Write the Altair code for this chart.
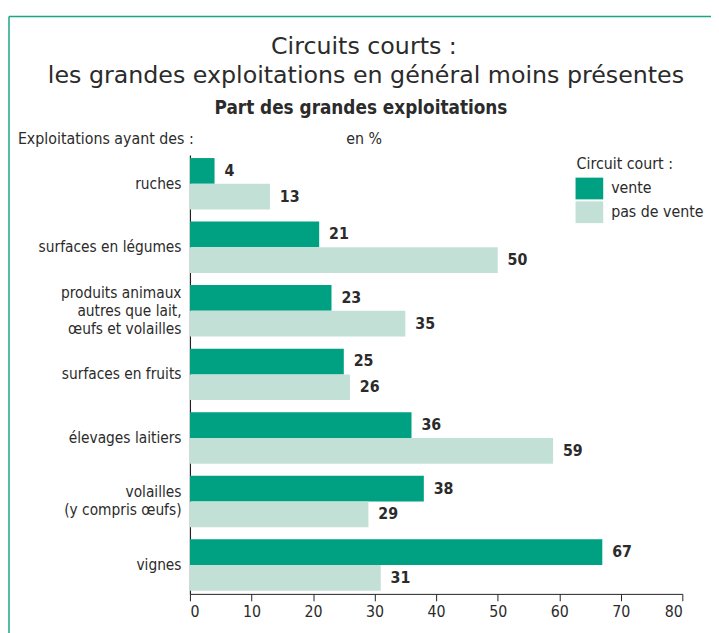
import altair as alt
import pandas as pd

categories = ["ruches", "surfaces en légumes",
              "produits animaux|autres que lait,|œufs et volailles",
              "surfaces en fruits", "élevages laitiers",
              "volailles|(y compris œufs)", "vignes"]
series = ["vente", "pas de vente"]
vente = [4, 21, 23, 25, 36, 38, 67]
pas_de_vente = [13, 50, 35, 26, 59, 29, 31]
x_ticks = [0, 10, 20, 30, 40, 50, 60, 70, 80]
colors = ["#00a082", "#c3e0d6"]

rows = []
for c, v1, v2 in zip(categories, vente, pas_de_vente):
    rows.append({"category": c, "series": series[0], "value": v1})
    rows.append({"category": c, "series": series[1], "value": v2})
df = pd.DataFrame(rows)

FONT = "DejaVu Sans Condensed"
TXT = "#2b2b2b"
LH = 18

y_enc = alt.Y("category:N", sort=categories,
              scale=alt.Scale(paddingInner=0.19, paddingOuter=0.05),
              axis=alt.Axis(title=None, ticks=False, domainColor="#222222",
                            domainWidth=1.2,
                            labelExpr="split(datum.label, '|')",
                            labelFont=FONT, labelFontSize=15.5, labelColor=TXT,
                            labelPadding=9, labelLineHeight=LH,
                            labelOffset={"condition": [
                                {"test": "length(split(datum.value, '|')) == 3", "value": -LH},
                                {"test": "length(split(datum.value, '|')) == 2", "value": -LH / 2},
                            ], "value": 0},
                            labelAlign="right", labelBaseline="middle"))
yoff = alt.YOffset("series:N", sort=series,
                   scale=alt.Scale(paddingInner=0, paddingOuter=0))
x_enc = alt.X("value:Q", scale=alt.Scale(domain=[0, 80], nice=False),
              axis=alt.Axis(title=None, values=x_ticks, grid=False,
                            domainColor="#222222", tickColor="#222222",
                            tickSize=7, labelFont=FONT, labelFontSize=16,
                            labelColor=TXT, labelPadding=3))

bars = alt.Chart(df).mark_bar().encode(
    x=x_enc, y=y_enc, yOffset=yoff,
    color=alt.Color("series:N", sort=series,
                    scale=alt.Scale(domain=series, range=colors),
                    legend=alt.Legend(
                        title="Circuit court :", orient="none",
                        legendX=391, legendY=1,
                        titleFont=FONT, titleFontSize=16, titleFontWeight="normal",
                        titleColor=TXT, titlePadding=4,
                        labelFont=FONT, labelFontSize=16, labelColor=TXT,
                        symbolType="M-1.077,-0.846H1.077V0.846H-1.077Z",
                        symbolSize=676, symbolStrokeWidth=0, symbolOpacity=1,
                        rowPadding=0, labelOffset=9)),
)

labels = alt.Chart(df).mark_text(
    align="left", baseline="middle", dx=10, font=FONT, fontSize=16,
    fontWeight="bold", color=TXT
).encode(x="value:Q", y=alt.Y("category:N", sort=categories), yOffset=yoff,
         text="value:Q")

def txt(s, x, y, size, weight="normal", font=FONT, align="center"):
    return alt.Chart(pd.DataFrame({"t": [s]})).mark_text(
        align=align, baseline="alphabetic", font=font, fontSize=size,
        fontWeight=weight, color=TXT
    ).encode(text="t:N", x=alt.value(x), y=alt.value(y))

ox, oy = 192, 153
titles = [
    txt("Circuits courts :", 368 - ox, 51 - oy, 24, "normal", "DejaVu Sans"),
    txt("les grandes exploitations en général moins présentes", 370 - ox, 80 - oy, 24, "normal", "DejaVu Sans"),
    txt("Part des grandes exploitations", 365 - ox, 112 - oy, 19, "bold"),
    txt("Exploitations ayant des :", 18 - ox, 142 - oy, 16, align="left"),
    txt("en %", 350 - ox, 142 - oy, 16, align="left"),
]

frame = [
    alt.Chart(pd.DataFrame({"a": [0]})).mark_rule(color="#1aa585", strokeWidth=1.5).encode(
        x=alt.value(9 - ox), y=alt.value(13 - oy), y2=alt.value(700)),
    alt.Chart(pd.DataFrame({"a": [0]})).mark_rule(color="#1aa585", strokeWidth=1.5).encode(
        x=alt.value(9 - ox), x2=alt.value(800), y=alt.value(13 - oy)),
]

chart = alt.layer(bars, labels, *titles, *frame).properties(
    width=498, height=444,
    autosize=alt.AutoSizeParams(type="none"),
    padding={"left": 184, "top": 145, "right": 29, "bottom": 36},
).configure_view(stroke=None)

chart.save("out.html", embed_options={"renderer": "svg", "actions": False})
